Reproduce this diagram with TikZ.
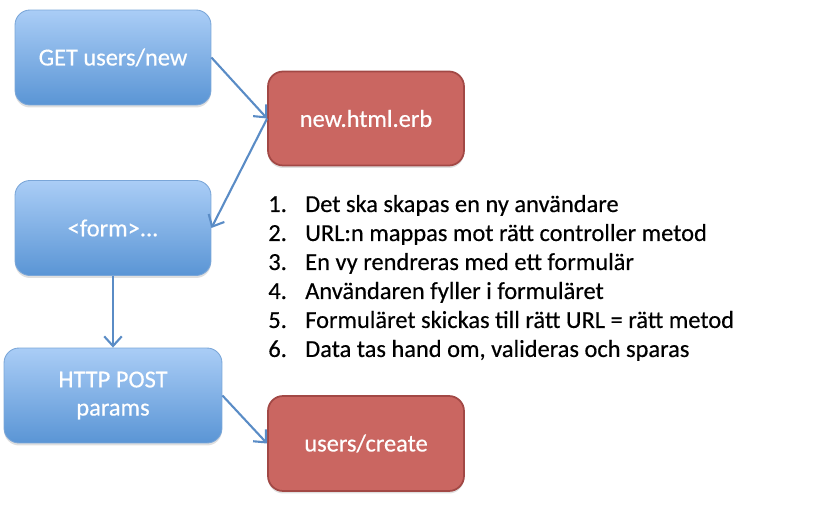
\documentclass[tikz,border=0pt]{standalone}
\usepackage{fontspec}
\setmainfont[FakeBold=0.4]{Carlito}
\usetikzlibrary{arrows.meta,shadows}
\definecolor{FlowBlueTop}{HTML}{AACDF6}
\definecolor{FlowBlueBottom}{HTML}{5A95D5}
\definecolor{FlowBlueLine}{HTML}{7AA6D8}
\definecolor{FlowRed}{HTML}{CA6661}
\definecolor{FlowRedLine}{HTML}{A24845}
\definecolor{FlowArrow}{HTML}{5A8CC6}
\tikzset{
  reqbox/.style={rounded corners=0.3cm,draw=FlowBlueLine,line width=0.5pt,
    top color=FlowBlueTop,bottom color=FlowBlueBottom,text=white,align=center,
    font=\fontsize{13.9}{16}\selectfont,inner sep=0pt,
    minimum width=3.92cm,minimum height=1.9cm,
    drop shadow={opacity=.25,shadow xshift=0pt,shadow yshift=-0.05cm}},
  viewbox/.style={rounded corners=0.3cm,draw=FlowRedLine,line width=1pt,
    fill=FlowRed,text=white,align=center,
    font=\fontsize{13.9}{16}\selectfont,inner sep=0pt,
    minimum width=3.92cm,minimum height=1.88cm,
    drop shadow={opacity=.25,shadow xshift=0pt,shadow yshift=-0.05cm}},
  flow/.style={FlowArrow,line width=1.2pt,-{Straight Barb[length=5.5pt,width=10pt]}}
}
\begin{document}
\begin{tikzpicture}[x=0.02cm,y=-0.02cm]
    \useasboundingbox (0,0) rectangle (835,509);
    \node[reqbox] (getnew) at (113,57.5) {GET users/new};
    \node[viewbox] (newerb) at (366,118.5) {new.html.erb};
    \node[reqbox] (form) at (113,228) {<form>...};
    \node[reqbox,minimum width=4.36cm] (post) at (113,395.5) {HTTP POST\\params};
    \node[viewbox,minimum height=1.9cm] (create) at (366,443.5) {users/create};
    \draw[flow] (getnew.east) -- (newerb.west);
    \draw[flow] (newerb.west) -- (form.east);
    \draw[flow] (form.south) -- (post.north);
    \draw[flow] (post.east) -- (create.west);
    \node[anchor=base west,inner sep=0pt,font=\fontsize{13.9}{16.5}\selectfont] (steps) at (268,212)
      {\begin{tabular}[t]{@{}p{21pt}@{}l@{}}
        1. & Det ska skapas en ny användare\\
        2. & URL:n mappas mot rätt controller metod\\
        3. & En vy rendreras med ett formulär\\
        4. & Användaren fyller i formuläret\\
        5. & Formuläret skickas till rätt URL = rätt metod\\
        6. & Data tas hand om, valideras och sparas
      \end{tabular}};
  \end{tikzpicture}
\end{document}
